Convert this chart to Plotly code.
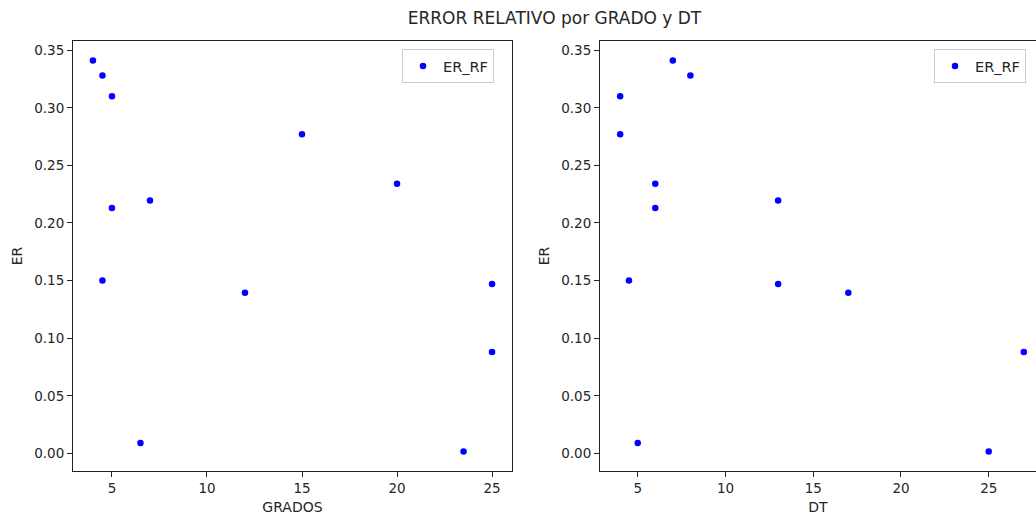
import plotly.graph_objects as go

# Data
er_rf = [0.341, 0.328, 0.310, 0.277, 0.234, 0.213, 0.2195, 0.150, 0.147, 0.1395, 0.088, 0.009, 0.0017]
grados = [4, 4.5, 5, 15, 20, 5, 7, 4.5, 25, 12, 25, 6.5, 23.5]
dt = [7, 8, 4, 4, 6, 6, 13, 4.5, 13, 17, 27, 5, 25]

title_text = "ERROR RELATIVO por GRADO y DT"
series_name = "ER_RF"

FONT = "DejaVu Sans"
TXT = "#262626"

fig = go.Figure()
fig.add_trace(go.Scatter(x=grados, y=er_rf, mode="markers", name=series_name,
                         marker=dict(color="#0000ff", size=6.5), xaxis="x", yaxis="y",
                         legend="legend"))
fig.add_trace(go.Scatter(x=dt, y=er_rf, mode="markers", name=series_name,
                         marker=dict(color="#0000ff", size=6.5), xaxis="x2", yaxis="y2",
                         legend="legend2"))

ymin, ymax = min(er_rf), max(er_rf)
pad = (ymax - ymin) * 0.05
yr = [ymin - pad, ymax + pad]

def xr(vals):
    lo, hi = min(vals), max(vals)
    p = (hi - lo) * 0.05
    return [lo - p, hi + p]

r1 = xr(grados)
r2 = xr(dt)
# right panel is cropped at the window edge in the reference
r2_vis = [r2[0], r2[1] - 8 / (444 / (r2[1] - r2[0]))]

axis_common = dict(showgrid=False, zeroline=False, showline=True, linecolor="#222",
                   linewidth=1, ticks="outside", ticklen=5, tickcolor="#222",
                   tickfont=dict(family=FONT, size=13.5, color=TXT),
                   title_font=dict(family=FONT, size=14, color=TXT))

fig.update_layout(
    template="none",
    width=1036, height=516,
    margin=dict(l=73, r=0, t=41, b=45, autoexpand=False),
    paper_bgcolor="white", plot_bgcolor="white",
    title=dict(text=title_text, x=0.5, xref="paper", xanchor="center",
               y=1 - 18 / 516, yref="container", yanchor="middle",
               font=dict(family=FONT, size=17, color=TXT)),
    xaxis=dict(domain=[0, 439 / 963], range=r1, dtick=5, mirror=True, anchor="y",
               title=dict(text="GRADOS", standoff=6), **axis_common),
    yaxis=dict(domain=[0, 1], range=yr, dtick=0.05, tickformat=".2f", mirror=True,
               anchor="x", title=dict(text="ER", standoff=8), **axis_common),
    xaxis2=dict(domain=[527 / 963, 1.0], range=r2_vis, dtick=5, mirror=True, anchor="y2",
                title=dict(text="DT", standoff=6), **axis_common),
    yaxis2=dict(domain=[0, 1], range=yr, dtick=0.05, tickformat=".2f", mirror=False,
                anchor="x2", title=dict(text="ER", standoff=8), **axis_common),
    legend=dict(x=(402 - 73) / 963, y=(471 - 49) / 430, xanchor="left", yanchor="top",
                bordercolor="#cccccc", borderwidth=1, bgcolor="white",
                font=dict(family=FONT, size=14.5, color=TXT)),
    legend2=dict(x=(934 - 73) / 963, y=(471 - 49) / 430, xanchor="left", yanchor="top",
                 bordercolor="#cccccc", borderwidth=1, bgcolor="white",
                 font=dict(family=FONT, size=14.5, color=TXT)),
    showlegend=True,
)

fig.write_html("out.html", config={"displayModeBar": False},
               post_script="document.body.style.margin='0';")
